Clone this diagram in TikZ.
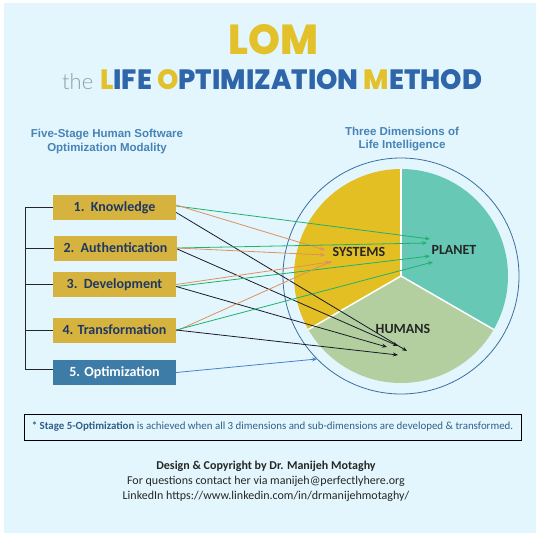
\documentclass[tikz,border=0pt]{standalone}
\usepackage{fontspec}
\usepackage{graphicx}
\setmainfont{Carlito}
\newfontfamily\titlefont{Poppins ExtraBold}
\newfontfamily\headfont{Liberation Sans}
\newfontfamily\thinfont{Lato Light}
\usetikzlibrary{arrows.meta, positioning, calc}
\definecolor{skybg}{HTML}{E3F6FD}
\definecolor{stagegold}{HTML}{D5B33E}
\definecolor{stageblue}{HTML}{3E7CA8}
\definecolor{navytext}{HTML}{1F3864}
\definecolor{headblue}{HTML}{4683B6}
\definecolor{titleblue}{HTML}{2F65A9}
\definecolor{titlegold}{HTML}{E2C12A}
\definecolor{thegray}{HTML}{8E9DA7}
\definecolor{sysyellow}{HTML}{E3BF24}
\definecolor{planetteal}{HTML}{67C8B5}
\definecolor{humangreen}{HTML}{B3CFA0}
\definecolor{ringblue}{HTML}{3E6E9E}
\definecolor{arrgreen}{HTML}{1DB36B}
\definecolor{arrorange}{HTML}{E0905A}
\definecolor{arrblack}{HTML}{1A1A2A}
\definecolor{arrblue}{HTML}{4A7FD0}
\definecolor{notetext}{HTML}{2F5F8A}

\begin{document}
\begin{tikzpicture}[x=1pt, y=-1pt,
    stagebox/.style={fill=stagegold, minimum width=123pt, minimum height=25pt, inner sep=0pt,
      font=\fontsize{14}{16}\selectfont\bfseries, text=navytext},
    brk/.style={draw=black!85, line width=0.9pt},
    link/.style={line width=0.8pt, -{Stealth[length=5pt, width=4pt]}},
    slice/.style={draw=white, line width=1.5pt},
    dimlabel/.style={font=\fontsize{14}{16}\selectfont\bfseries, text=black!85},
    head/.style={align=center, font=\headfont\fontsize{11.5}{14}\selectfont\bfseries, text=headblue}]
  \useasboundingbox (0,0) rectangle (536,533);
  % background
  \fill[skybg] (4,3) rectangle (536,533);

  % title
  \node[anchor=south west, inner sep=0pt, text=titlegold] (lom) at (228,55)
    {\resizebox{90pt}{30pt}{\titlefont LOM}};
  \node[anchor=south west, inner sep=0pt, text=thegray] (the) at (62,90)
    {\resizebox{31pt}{!}{\thinfont the}};
  \node[anchor=south west, inner sep=0pt, text=titleblue] (lifeopt) at (100,90)
    {\resizebox{382pt}{20pt}{\titlefont\textcolor{titlegold}{L}IFE \textcolor{titlegold}{O}PTIMIZATION \textcolor{titlegold}{M}ETHOD}};

  % column headings
  \node[head] (lefthead) at (107,142) {Five-Stage Human Software\\Optimization Modality};
  \node[head, font=\headfont\fontsize{11.5}{13}\selectfont\bfseries] (righthead) at (402,139.5) {Three Dimensions of\\Life Intelligence};

  % stages
  \node[stagebox] (know) at (114.5,207.5) {1.\ \ Knowledge};
  \node[stagebox] (auth) at (115.5,248) {2.\ \ Authentication};
  \node[stagebox] (dev) at (114.5,284.5) {3.\ \ Development};
  \node[stagebox] (trans) at (114.5,330) {4. Transformation};
  \node[stagebox, fill=stageblue, text=white] (opt) at (114.5,372.5) {5. Optimization};

  % bracket on the left
  \coordinate (spine) at (25,0);
  \draw[brk] (know.west) -- (know.west -| spine) -- ([yshift=3pt]opt.west -| spine) -- ([yshift=3pt]opt.west);
  \foreach \s in {auth,dev,trans}
    \draw[brk] (\s.west -| spine) -- (\s.west);

  % three dimensions pie
  \coordinate (pie) at (401,276);
  \draw[ringblue, line width=0.8pt] (pie) circle[radius=118];
  \fill[sysyellow] (pie) -- ++(150:107) arc[start angle=150, end angle=270, radius=107] -- cycle;
  \fill[planetteal] (pie) -- ++(-90:107) arc[start angle=-90, end angle=30, radius=107] -- cycle;
  \fill[humangreen] (pie) -- ++(30:107) arc[start angle=30, end angle=150, radius=107] -- cycle;
  \foreach \a in {-90,30,150}
    \draw[slice] (pie) -- ++(\a:107);
  \node[dimlabel] (systems) at (359,252) {SYSTEMS};
  \node[dimlabel] (planet) at (454,250) {PLANET};
  \node[dimlabel] (humans) at (403,329) {HUMANS};

  % arrow targets
  \coordinate (pl1) at (430,239);
  \coordinate (pl2) at (427,243);
  \coordinate (pl3) at (430,256);
  \coordinate (pl4) at (433,262);
  \coordinate (sy1) at (325,250);
  \coordinate (sy2) at (325,255);
  \coordinate (sy3) at (330,262);
  \coordinate (sy4) at (332,261);
  \coordinate (hu1) at (407,351);
  \coordinate (hu2) at (398,346);
  \coordinate (hu3) at (387,347);
  \coordinate (hu4) at (398,355);
  \coordinate (ring) at (317,359);

  % arrows from the stages
  \draw[link, arrgreen] ([yshift=1.5pt]know.east) -- (pl1);
  \draw[link, arrorange] ([yshift=2.5pt]know.east) -- (sy1);
  \draw[link, arrblack] ([yshift=-5pt]know.east) -- (hu1);
  \draw[link, arrgreen] (auth.east) -- (pl2);
  \draw[link, arrorange] (auth.east) -- (sy2);
  \draw[link, arrblack] ([yshift=-1pt]auth.east) -- (hu2);
  \draw[link, arrorange] (dev.east) -- (sy3);
  \draw[link, arrgreen] ([yshift=-2pt]dev.east) -- (pl3);
  \draw[link, arrblack] ([yshift=-2pt]dev.east) -- (hu3);
  \draw[link, arrorange] ([yshift=-1pt]trans.east) -- (sy4);
  \draw[link, arrgreen] (trans.east) -- (pl4);
  \draw[link, arrblack] (trans.east) -- (hu4);
  \draw[link, arrblue] (opt.east) -- (ring);

  % note
  \node[draw=black, line width=0.9pt, minimum width=497pt, minimum height=26pt, inner sep=0pt,
    font=\fontsize{10.9}{12}\selectfont, text=notetext] (note) at (272.5,427)
    {\textbf{* Stage 5-Optimization} is achieved when all 3 dimensions and sub-dimensions are developed \& transformed.};

  % credits
  \node[align=center, font=\fontsize{12}{15}\selectfont, text=black!85] (credits) at (266,481)
    {\textbf{Design \& Copyright by Dr. Manijeh Motaghy}\\
     For questions contact her via manijeh@perfectlyhere.org\\
     LinkedIn https://www.linkedin.com/in/drmanijehmotaghy/};
\end{tikzpicture}
\end{document}
